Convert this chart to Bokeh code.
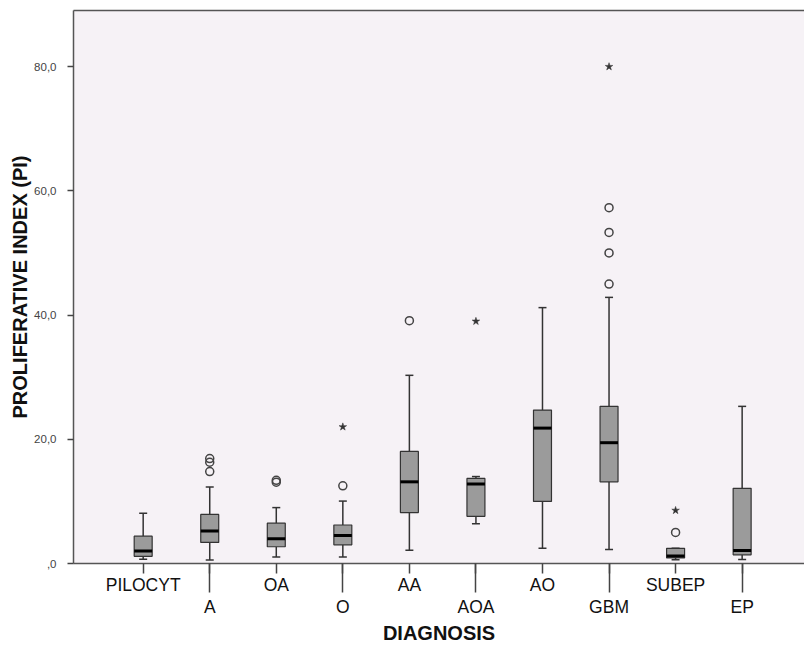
from bokeh.plotting import figure
from bokeh.models import Range1d, FixedTicker, LinearAxis
from bokeh.embed import file_html
from bokeh.resources import INLINE

# ---- data ----
categories = ["PILOCYT", "A", "OA", "O", "AA", "AOA", "AO", "GBM", "SUBEP", "EP"]
whisker_low = [0.7, 0.55, 1.05, 1.05, 2.15, 6.4, 2.45, 2.25, 0.6, 0.65]
q1 = [1.15, 3.4, 2.7, 3.0, 8.2, 7.6, 10.0, 13.15, 0.9, 1.4]
median = [2.0, 5.25, 4.0, 4.5, 13.15, 12.8, 21.8, 19.45, 1.2, 2.1]
q3 = [4.4, 7.9, 6.5, 6.2, 18.05, 13.7, 24.7, 25.3, 2.45, 12.1]
whisker_high = [8.1, 12.3, 9.0, 10.05, 30.3, 14.0, 41.2, 42.85, 2.45, 25.3]

outlier_cat = ["A", "A", "A", "OA", "OA", "O", "AA", "GBM", "GBM", "GBM", "GBM", "SUBEP"]
outlier_val = [16.9, 16.3, 14.8, 13.1, 13.4, 12.5, 39.1, 57.3, 53.3, 50.0, 45.0, 5.0]

extreme_cat = ["O", "AOA", "GBM", "SUBEP"]
extreme_val = [22.0, 39.0, 80.0, 8.55]

y_ticks = [0, 20, 40, 60, 80]
y_tick_labels = [",0", "20,0", "40,0", "60,0", "80,0"]

# ---- layout constants ----
W, H = 804, 646
BL, BT, BB = 73, 10, 80
XMIN, XMAX = -1.047, 9.937
YMIN, YMAX = 0, 89.04
FONT = "Liberation Sans"

idx = {c: i for i, c in enumerate(categories)}
xs = list(range(len(categories)))

p = figure(width=W, height=H, output_backend="svg", toolbar_location=None,
           x_range=Range1d(XMIN, XMAX), y_range=Range1d(YMIN, YMAX),
           min_border_left=BL, min_border_top=BT, min_border_bottom=BB,
           min_border_right=0)
p.background_fill_color = "#F6F2F6"
p.border_fill_color = "white"
p.outline_line_color = None
p.xgrid.visible = False
p.ygrid.visible = False

box_w = 0.27
cap_w = 0.12

# whiskers
p.segment(x0=xs, y0=q3, x1=xs, y1=whisker_high, line_color="#333333", line_width=1.5)
p.segment(x0=xs, y0=q1, x1=xs, y1=whisker_low, line_color="#333333", line_width=1.5)
p.segment(x0=[x - cap_w / 2 for x in xs], y0=whisker_high,
          x1=[x + cap_w / 2 for x in xs], y1=whisker_high,
          line_color="#333333", line_width=1.5)
p.segment(x0=[x - cap_w / 2 for x in xs], y0=whisker_low,
          x1=[x + cap_w / 2 for x in xs], y1=whisker_low,
          line_color="#333333", line_width=1.5)
# boxes
p.vbar(x=xs, width=box_w, bottom=q1, top=q3, fill_color="#9B9B9B",
       line_color="#333333", line_width=1.2)
# medians
p.segment(x0=[x - box_w / 2 for x in xs], y0=median,
          x1=[x + box_w / 2 for x in xs], y1=median,
          line_color="black", line_width=3)
# outliers
p.scatter(x=[idx[c] for c in outlier_cat], y=outlier_val, marker="circle",
          size=8, fill_color=None, line_color="#444444", line_width=1.5)
p.scatter(x=[idx[c] for c in extreme_cat], y=extreme_val, marker="star",
          size=8, fill_color="#333333", line_color="#333333", line_width=0.5)

# ---- x axis: all categories as major ticks (short); odd ones get long minor ticks
xa = p.xaxis[0]
odd = [i for i in xs if i % 2 == 1]
xa.ticker = FixedTicker(ticks=xs, minor_ticks=odd)
xa.major_label_overrides = {i: (categories[i] if i % 2 == 0 else "\n" + categories[i])
                            for i in xs}
xa.major_tick_out = 10
xa.major_tick_in = 0
xa.minor_tick_out = 29
xa.minor_tick_in = 0
xa.major_tick_line_color = "#444444"
xa.minor_tick_line_color = "#444444"
xa.major_tick_line_width = 1.5
xa.minor_tick_line_width = 1.5
xa.axis_line_color = "#555555"
xa.axis_line_width = 1.5
xa.major_label_standoff = -18
xa.major_label_text_font = FONT
xa.major_label_text_font_size = "17.5px"
xa.major_label_text_color = "#111111"
xa.major_label_text_line_height = 1.12
xa.axis_label = "DIAGNOSIS"
xa.axis_label_text_font = FONT
xa.axis_label_text_font_size = "20px"
xa.axis_label_text_font_style = "bold"
xa.axis_label_text_color = "#111111"
xa.axis_label_text_line_height = 1.0
xa.axis_label_standoff = 2

# top frame border drawn as a bare axis line
top_axis = LinearAxis(ticker=FixedTicker(ticks=[], minor_ticks=[]),
                      major_tick_line_color=None, minor_tick_line_color=None,
                      major_label_text_font_size="0px", major_label_standoff=0,
                      axis_line_color="#555555", axis_line_width=1.5)
p.add_layout(top_axis, "above")

# ---- y axis ----
ya = p.yaxis[0]
ya.ticker = FixedTicker(ticks=y_ticks, minor_ticks=[])
ya.major_label_overrides = {t: l for t, l in zip(y_ticks, y_tick_labels)}
ya.major_tick_out = 6
ya.major_tick_in = 0
ya.minor_tick_line_color = None
ya.major_tick_line_color = "#444444"
ya.major_tick_line_width = 1.5
ya.axis_line_color = "#555555"
ya.axis_line_width = 1.5
ya.major_label_standoff = 11
ya.major_label_text_font = FONT
ya.major_label_text_font_size = "11.5px"
ya.major_label_text_color = "#444444"
ya.axis_label = "PROLIFERATIVE INDEX (PI)"
ya.axis_label_text_font = FONT
ya.axis_label_text_font_size = "20px"
ya.axis_label_text_font_style = "bold"
ya.axis_label_text_color = "#111111"
ya.axis_label_standoff = 0

open("out.html", "w").write(file_html(p, INLINE))
